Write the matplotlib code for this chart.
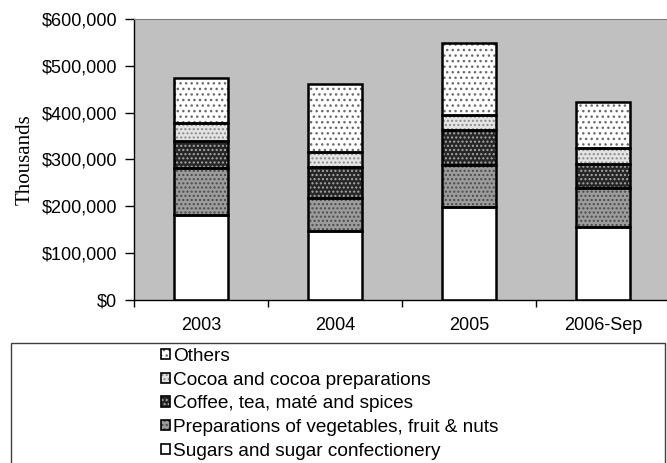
import numpy as np
import matplotlib
matplotlib.use("Agg")
import matplotlib.pyplot as plt
from matplotlib.patches import Rectangle
from matplotlib.ticker import FuncFormatter

years = ["2003", "2004", "2005", "2006-Sep"]
sugars = [181000, 148000, 198000, 155000]
vegetables = [100000, 70000, 90000, 83500]
coffee = [59000, 65500, 74000, 52500]
cocoa = [38000, 31500, 34000, 33000]
others = [96000, 147000, 153000, 99000]

series_names = ["Sugars and sugar confectionery",
                "Preparations of vegetables, fruit & nuts",
                "Coffee, tea, maté and spices",
                "Cocoa and cocoa preparations",
                "Others"]
series_values = [sugars, vegetables, coffee, cocoa, others]
# face colour, hatch colour, hatch
styles = [("white", "white", None),
          ("#9c9c9c", "#4a4a4a", "...."),
          ("#262626", "#a8a8a8", "...."),
          ("#e4e4e4", "#8a8a8a", "...."),
          ("white", "#6a6a6a", "...")]

plt.rcParams["font.family"] = ["Liberation Sans", "DejaVu Sans"]
plt.rcParams["hatch.linewidth"] = 1.0

fig = plt.figure(figsize=(6.67, 4.63), dpi=100)
ax = fig.add_axes([134 / 667, 163 / 463, 536 / 667, 281 / 463])
ax.set_facecolor("#c0c0c0")

x = np.arange(len(years))
bottom = np.zeros(len(years))
handles = []
for vals, (fc, hc, hatch) in zip(series_values, styles):
    ax.bar(x, vals, 0.4, bottom=bottom, facecolor=fc, edgecolor=hc,
           hatch=hatch, linewidth=0, zorder=2)
    ax.bar(x, vals, 0.4, bottom=bottom, fill=False, edgecolor="black",
           linewidth=1.8, zorder=3)
    bottom += np.array(vals)
    h1 = Rectangle((0, 0), 1, 1, facecolor=fc, edgecolor=hc, hatch=hatch, linewidth=0)
    h2 = Rectangle((0, 0), 1, 1, fill=False, edgecolor="black", linewidth=1.2)
    handles.append((h1, h2))

ax.set_xlim(-0.5, 3.5)
ax.set_ylim(0, 600000)
ax.set_yticks(np.arange(0, 600001, 100000))
ax.yaxis.set_major_formatter(FuncFormatter(lambda v, p: "${:,.0f}".format(v)))
ax.set_xticks(x)
ax.set_xticklabels(years)
ax.set_xticks(np.arange(-0.5, 4, 1), minor=True)
ax.tick_params(axis="x", which="major", length=0, pad=12, labelsize=13)
ax.tick_params(axis="x", which="minor", length=5, width=1, direction="out")
ax.tick_params(axis="y", length=6.5, width=1, direction="out", pad=5.5, labelsize=13)
ax.set_ylabel("Thousands", family="Liberation Serif", fontsize=15, labelpad=5)

ax.spines["top"].set_color("#808080")
ax.spines["right"].set_visible(False)
ax.spines["left"].set_linewidth(1)
ax.spines["bottom"].set_linewidth(1)

fig.patches.append(Rectangle((11 / 667, -0.05), 654 / 667, (463 - 343) / 463 + 0.05,
                             transform=fig.transFigure, fill=False,
                             edgecolor="#404040", linewidth=1))

leg = fig.legend(handles[::-1], series_names[::-1], loc="upper left",
                 bbox_to_anchor=(161 / 667, (463 - 348) / 463), frameon=False,
                 fontsize=13.7, borderpad=0, borderaxespad=0, labelspacing=0.35,
                 handlelength=0.45, handleheight=0.45, handletextpad=0.2)

fig.savefig("out.png", dpi=100)
